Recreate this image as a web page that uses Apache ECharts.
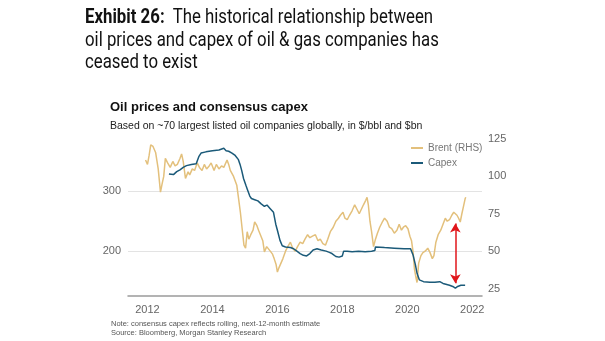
<!DOCTYPE html>
<html>
<head>
<meta charset="utf-8">
<script src="https://cdn.jsdelivr.net/npm/echarts@6/dist/echarts.min.js"></script>
<style>
html,body{margin:0;padding:0;background:#fff;width:605px;height:341px;overflow:hidden;}
#chart{position:absolute;left:0;top:0;width:605px;height:341px;}
#exhibit{position:absolute;left:85px;top:5px;font-family:Roboto,sans-serif;font-size:21px;line-height:22.5px;color:#111;transform:scaleX(0.8);transform-origin:0 0;white-space:nowrap;}
#exhibit b{font-weight:700;}
</style>
</head>
<body>
<div id="chart"></div>
<div id="exhibit"><b>Exhibit 26:</b>&nbsp; The historical relationship between<br>oil prices and capex of oil &amp; gas companies has<br>ceased to exist</div>
<script>
const chartTitle = 'Oil prices and consensus capex';
const chartSubtitle = 'Based on ~70 largest listed oil companies globally, in $/bbl and $bn';
const noteText = 'Note: consensus capex reflects rolling, next-12-month estimate\nSource: Bloomberg, Morgan Stanley Research';
const seriesNames = ['Brent (RHS)', 'Capex'];

const brentX = [2011.94,2012.0,2012.05,2012.1,2012.17,2012.25,2012.33,2012.4,2012.45,2012.5,2012.55,2012.62,2012.7,2012.78,2012.85,2012.92,
2013.0,2013.05,2013.1,2013.17,2013.25,2013.3,2013.38,2013.45,2013.53,2013.6,2013.68,2013.75,2013.82,2013.9,2013.96,
2014.05,2014.12,2014.2,2014.28,2014.35,2014.45,2014.5,2014.55,2014.65,2014.75,2014.8,2014.86,2014.92,2014.97,
2015.02,2015.07,2015.12,2015.18,2015.25,2015.3,2015.37,2015.42,2015.48,2015.55,2015.6,2015.67,2015.72,2015.78,2015.85,2015.9,2015.96,
2016.0,2016.05,2016.1,2016.17,2016.25,2016.32,2016.4,2016.47,2016.55,2016.62,2016.7,2016.78,2016.85,2016.93,
2017.0,2017.08,2017.17,2017.25,2017.32,2017.4,2017.48,2017.55,2017.63,2017.72,2017.8,2017.88,2017.94,
2018.02,2018.08,2018.15,2018.22,2018.3,2018.38,2018.45,2018.52,2018.58,2018.65,2018.72,2018.76,2018.8,2018.85,2018.9,2018.96,
2019.02,2019.08,2019.15,2019.22,2019.3,2019.38,2019.45,2019.52,2019.6,2019.68,2019.75,2019.82,2019.88,2019.95,
2020.02,2020.08,2020.13,2020.18,2020.22,2020.27,2020.3,2020.35,2020.42,2020.48,2020.55,2020.63,2020.7,2020.77,2020.82,2020.88,2020.95,
2021.03,2021.1,2021.17,2021.23,2021.3,2021.37,2021.43,2021.48,2021.53,2021.58,2021.63,2021.68,2021.73,2021.78,2021.8];
const brentY = [111,108,114,121,120,116,105,89.5,95,100,112,109,106,110,107,108,
112,115,110,98.6,103,101,105,104,109,106,104,108,105,107,109,
104,108,105,107,106,111,108,104,100,94,86,76,64,54,
52,63,58,61,64,69.5,67,64,65,57,49.5,53,52,50,48,45,41,
36,39,38,45,50,53,56,52,50,53,56,55,58,61,
59,60,61,57,58,55,54,58,63,66,70,72,74,
76,72,71,74,77,81,78,75,76,81,84,86,81,70,63,53,
58,62,66,69,72,70,66,65,62,64,68,64,66,67,
65,60,57,49,38,32,29,42,47,49,50,52,49,45,47,56,61,
64,68,72,70,71,74,76,77,74,72,69.5,75,80,85,86];

const capexX = [2012.66,2012.72,2012.8,2012.9,2013.0,2013.1,2013.2,2013.35,2013.5,2013.58,2013.65,2013.8,2014.0,2014.2,2014.35,2014.42,2014.5,2014.6,2014.7,2014.8,2014.85,2014.9,2014.96,
2015.03,2015.07,2015.15,2015.2,2015.3,2015.4,2015.5,2015.6,2015.68,2015.78,2015.88,2015.95,2016.0,2016.08,2016.15,2016.25,2016.4,2016.5,2016.6,2016.7,2016.8,2016.9,
2017.0,2017.1,2017.22,2017.35,2017.5,2017.6,2017.68,2017.8,2017.9,2018.0,2018.04,2018.15,2018.3,2018.5,2018.7,2018.9,2019.0,2019.02,2019.3,2019.6,2019.9,
2020.1,2020.14,2020.18,2020.25,2020.3,2020.37,2020.5,2020.7,2020.85,2021.0,2021.1,2021.3,2021.4,2021.48,2021.55,2021.65,2021.78];
const capexY = [329,326,328,333,336,340,343,345,346,358,364,366,368,369,372,368,367,364,360,353,345,335,321,
310,304,292,288,286,284,279,275,277,271,265,245,235,218,209,207,206,204,200,196,193,192,
196,202,204,202,200,198,196,191,190,192,200,200,199,200,199,200,201,207,206,205,204,
204,202,193,177,163,152,149,148,148,149,146,143,141,138,141,143,143];

const gridLevels = [200, 300];
const arrowX = 2021.48;
const arrowFrom = 68.5;
const arrowTo = 28.5;

const chart = echarts.init(document.getElementById('chart'));
const zip = (xs, ys) => xs.map((x, i) => [x, ys[i]]);
const font = 'Liberation Sans, Arial, sans-serif';

chart.setOption({
  animation: false,
  backgroundColor: '#fff',
  title: [
    {text: chartTitle, left: 105, top: 96, textStyle: {fontFamily: font, fontSize: 13, fontWeight: 'bold', color: '#111'}},
    {text: chartSubtitle, left: 105, top: 116, textStyle: {fontFamily: font, fontSize: 10.5, fontWeight: 'normal', color: '#222'}},
    {text: noteText, left: 106, top: 314, textStyle: {fontFamily: font, fontSize: 7.5, fontWeight: 'normal', color: '#555', lineHeight: 9}}
  ],
  legend: {
    orient: 'vertical', left: 406, top: 138, itemWidth: 12, itemHeight: 2, itemGap: 5, icon: 'rect',
    textStyle: {fontFamily: font, fontSize: 10, color: '#777', lineHeight: 9},
    data: seriesNames
  },
  grid: {left: 128, right: 123, top: 139, bottom: 45},
  xAxis: {
    type: 'value', min: 2011.4, max: 2022.3, interval: 0.2,
    axisLine: {show: true, lineStyle: {color: '#9a9a9a', width: 1.5}},
    axisTick: {show: false}, splitLine: {show: false},
    axisLabel: {margin: 8, fontFamily: font, fontSize: 11, color: '#666',
      formatter: v => { const r = Math.round(v); return (Math.abs(v - r) < 0.01 && r % 2 === 0) ? String(r) : ''; }}
  },
  yAxis: [
    {type: 'value', position: 'left', min: 125, max: 387.5, interval: 25,
      axisLine: {show: false}, axisTick: {show: false}, splitLine: {show: false},
      axisLabel: {margin: 7, fontFamily: font, fontSize: 11, color: '#666',
        formatter: v => gridLevels.includes(v) ? String(v) : ''}},
    {type: 'value', position: 'right', min: 20, max: 125, interval: 5,
      axisLine: {show: false}, axisTick: {show: false}, splitLine: {show: false},
      axisLabel: {margin: 6, fontFamily: font, fontSize: 11, color: '#666',
        formatter: v => (v % 25 === 0) ? String(v) : ''}}
  ],
  series: [
    {type: 'line', name: 'grid', yAxisIndex: 0, data: [], z: 1, silent: true,
      markLine: {silent: true, z: 0, symbol: 'none', label: {show: false},
        lineStyle: {color: '#e3e3e3', width: 1, type: 'solid'},
        data: gridLevels.map(v => ({yAxis: v}))}},
    {type: 'line', name: seriesNames[0], yAxisIndex: 1, data: zip(brentX, brentY), symbol: 'none', z: 3,
      lineStyle: {color: '#e3c07c', width: 1.5}, itemStyle: {color: '#e3c07c'},
      markLine: {silent: true, z: 6, symbol: ['arrow', 'arrow'], symbolSize: [8, 9], label: {show: false},
        lineStyle: {color: '#e0161b', width: 1.5, type: 'solid'},
        data: [[{coord: [arrowX, arrowFrom]}, {coord: [arrowX, arrowTo]}]]}},
    {type: 'line', name: seriesNames[1], yAxisIndex: 0, data: zip(capexX, capexY), symbol: 'none', z: 4,
      lineStyle: {color: '#1b5a79', width: 1.5}, itemStyle: {color: '#1b5a79'}}
  ]
});
</script>
</body>
</html>
